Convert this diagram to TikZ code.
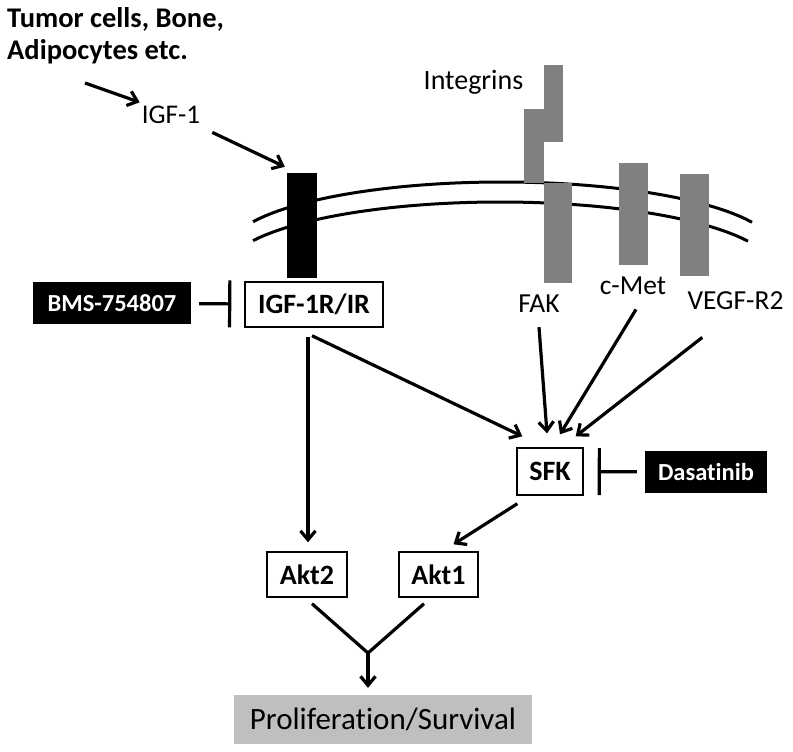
\documentclass[tikz,border=0pt]{standalone}
\usepackage{fontspec}
\setmainfont{Carlito}[Ligatures=NoCommon]
\usepackage{xcolor}
\usetikzlibrary{arrows.meta,positioning}

\begin{document}
\begin{tikzpicture}[x=1pt,y=-1pt,
	lbl/.style={inner sep=0pt, anchor=base, font=\fontsize{27.5}{30}\selectfont},
	box/.style={draw, line width=1.4pt, inner sep=0pt, font=\bfseries\fontsize{28}{30}\selectfont},
	drug/.style={fill=black, text=white, inner sep=0pt, font=\bfseries\fontsize{24.5}{28}\selectfont},
	rcpt/.style={fill=gray, inner sep=0pt},
	arr/.style={line width=3.2pt, -{Straight Barb[length=9pt,width=15pt]}},
	inh/.style={line width=3.2pt, -{Bar[width=47pt]}},
	mem/.style={line width=3pt}]
	\useasboundingbox (0,0) rectangle (793,752);
	% membrane
	\draw[mem] plot[domain=253:752, samples=80] (\x, {251-69*sqrt(1-((\x-502)/275)^2)});
	\draw[mem] plot[domain=253:748, samples=80] (\x, {271-69*sqrt(1-((\x-500)/275)^2)});
	% receptors
	\node[rcpt, fill=black, minimum width=30, minimum height=105] (igfr) at (302,225.5) {};
	\node[rcpt, minimum width=19, minimum height=77] (intega) at (553.5,103.5) {};
	\node[rcpt, minimum width=20, minimum height=74] (integb) at (534,146) {};
	\node[rcpt, minimum width=28, minimum height=100] (integc) at (558,233) {};
	\node[rcpt, minimum width=29, minimum height=102] (cmetr) at (633.5,214) {};
	\node[rcpt, minimum width=29, minimum height=102] (vegfr) at (694.5,225) {};
	% labels
	\node[lbl, anchor=north west, align=left, font=\bfseries\fontsize{28.5}{32}\selectfont] (src) at (7,7) {Tumor cells, Bone,\\Adipocytes etc.};
	\node[lbl, font=\fontsize{27}{30}\selectfont] (igf) at (171,123) {IGF-1};
	\node[lbl, font=\fontsize{28}{30}\selectfont] (integ) at (473.5,90) {Integrins};
	\node[lbl] (fak) at (539,312) {FAK};
	\node[lbl] (cmet) at (633,294) {c-Met};
	\node[lbl] (vegf) at (735.5,309) {VEGF-R2};
	% boxes
	\node[box, minimum width=138, minimum height=45] (igfbox) at (314,304.5) {IGF-1R/IR};
	\node[drug, minimum width=158, minimum height=42] (bms) at (112,303) {BMS-754807};
	\node[box, minimum width=66, minimum height=47] (sfk) at (550,471.5) {SFK};
	\node[drug, minimum width=122, minimum height=42] (dasat) at (706,472) {Dasatinib};
	\node[box, minimum width=80, minimum height=45] (akt2) at (307,574.5) {Akt2};
	\node[box, minimum width=79, minimum height=45] (akt1) at (438.5,574.5) {Akt1};
	\node[fill=gray!50, minimum width=298, minimum height=49, inner sep=0pt, font=\fontsize{31}{34}\selectfont] (prolif) at (383,719.5) {Proliferation/Survival};
	\coordinate (mrg) at (368,653);
	% connectors
	\draw[arr] ([shift={(78,76)}]src.north west) -- ([shift={(-2,-3)}]igf.north west);
	\draw[arr] ([shift={(12,9)}]igf.south east) -- ([shift={(-2,-6)}]igfr.north west);
	\draw[inh, shorten <=8pt, shorten >=13pt] (bms) -- (igfbox);
	\draw[inh, shorten <=8pt, shorten >=14pt] (dasat) -- (sfk);
	\draw[arr] ([shift={(-6,9)}]igfbox.south) -- ([shift={(1,-9)}]akt2.north);
	\draw[arr] ([shift={(-2,8)}]igfbox.south) -- ([shift={(6,-11)}]sfk.north west);
	\draw[arr] ([shift={(0,15)}]fak.south) -- ([shift={(-3,-14)}]sfk.north);
	\draw[arr] ([shift={(3,15)}]cmet.south) -- ([shift={(10,-13)}]sfk.north);
	\draw[arr] ([shift={(15,28)}]vegf.south west) -- ([shift={(-8,-11)}]sfk.north east);
	\draw[arr] ([shift={(1,8)}]sfk.south west) -- ([shift={(15,-7)}]akt1.north);
	\draw[line width=3.2pt] ([shift={(5,6)}]akt2.south) -- (mrg) -- ([shift={(-14.5,6)}]akt1.south);
	\draw[arr] (mrg) -- ([shift={(0,-7)}]mrg |- prolif.north);
\end{tikzpicture}
\end{document}
